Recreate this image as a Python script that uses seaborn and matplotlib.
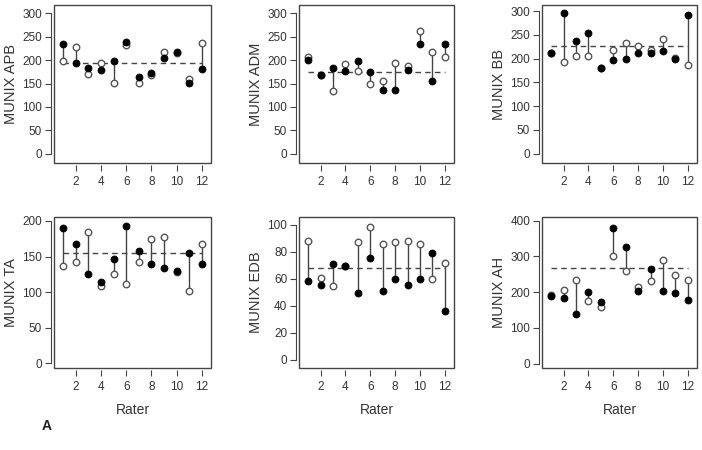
import numpy as np
import pandas as pd
import matplotlib
matplotlib.use("Agg")
import matplotlib.pyplot as plt
from matplotlib.patches import Rectangle
import seaborn as sns

# Valeurs (raters 1..12)
raters = list(range(1, 13))

apb_filled = [234, 193, 184, 179, 198, 239, 165, 172, 204, 218, 151, 182]
apb_open = [198, 228, 170, 194, 152, 232, 152, 169, 218, 216, 160, 237]
apb_mean = 194

adm_filled = [200, 168, 183, 176, 199, 174, 137, 137, 179, 235, 156, 235]
adm_open = [207, 168, 133, 191, 177, 149, 155, 194, 187, 263, 218, 207]
adm_mean = 174

bb_filled = [212, 297, 237, 254, 180, 197, 199, 211, 211, 215, 200, 292]
bb_open = [212, 192, 206, 206, 180, 218, 232, 226, 219, 241, 201, 186]
bb_mean = 227

ta_filled = [190, 167, 125, 114, 146, 193, 158, 140, 134, 130, 155, 139]
ta_open = [137, 143, 184, 109, 125, 111, 143, 175, 177, 128, 101, 168]
ta_mean = 155

edb_filled = [58, 55, 70.7, 69.2, 49.4, 75.5, 51.1, 60, 55, 60, 78.7, 36.4]
edb_open = [87.5, 60.4, 54.3, 69.2, 86.8, 98.5, 85.8, 86.8, 87.5, 85.8, 60, 71.6]
edb_mean = 68

ah_filled = [190, 183, 138, 200, 173, 378, 326, 203, 264, 203, 199, 177]
ah_open = [192, 206, 233, 174, 159, 300, 259, 214, 232, 291, 247, 233]
ah_mean = 268

panels = [
    ("MUNIX APB", apb_filled, apb_open, apb_mean, (-20, 318), [0, 50, 100, 150, 200, 250, 300]),
    ("MUNIX ADM", adm_filled, adm_open, adm_mean, (-20, 318), [0, 50, 100, 150, 200, 250, 300]),
    ("MUNIX BB", bb_filled, bb_open, bb_mean, (-20, 313), [0, 50, 100, 150, 200, 250, 300]),
    ("MUNIX TA", ta_filled, ta_open, ta_mean, (-6.5, 205.6), [0, 50, 100, 150, 200]),
    ("MUNIX EDB", edb_filled, edb_open, edb_mean, (-6.1, 105.6), [0, 20, 40, 60, 80, 100]),
    ("MUNIX AH", ah_filled, ah_open, ah_mean, (-12, 410), [0, 100, 200, 300, 400]),
]

sns.set_style("white")
plt.rcParams["font.family"] = ["Liberation Sans", "DejaVu Sans"]

fig = plt.figure(figsize=(7.02, 4.5), dpi=100)

# positions des boîtes (pixels) : gauche, droite ; haut, bas
cols = [(54, 211), (299, 454), (542, 697)]
rows = [(5, 163), (217, 368)]
W, H = 702, 450

line_col = "#444444"
text_col = "#333333"

for i, (name, filled, opened, mean, ylim, yticks) in enumerate(panels):
    r, c = divmod(i, 3)
    l, rr = cols[c]
    t, b = rows[r]
    ax = fig.add_axes([l / W, 1 - b / H, (rr - l) / W, (b - t) / H])

    df = pd.DataFrame({"rater": raters, "filled": filled, "open": opened})

    ax.vlines(df["rater"], df[["filled", "open"]].min(axis=1), df[["filled", "open"]].max(axis=1),
              color=line_col, lw=1.0, zorder=1)
    ax.hlines(mean, 1, 12, colors=line_col, linestyles=(0, (4, 3)), lw=1.0, zorder=1)

    sns.scatterplot(data=df, x="rater", y="open", ax=ax, s=22, facecolor="white",
                    edgecolor="#555555", linewidth=1.0, zorder=2, legend=False)
    sns.scatterplot(data=df, x="rater", y="filled", ax=ax, s=26, color="black",
                    edgecolor="black", linewidth=0.5, zorder=3, legend=False)

    ax.set_xlim(0.27, 12.73)
    ax.set_ylim(*ylim)
    ax.set_xticks([2, 4, 6, 8, 10, 12])
    ax.set_yticks(yticks)

    # style R : boîte + axes légèrement décalés
    for side in ["top", "right"]:
        ax.spines[side].set_visible(False)
    ax.spines["left"].set_position(("outward", 2.5))
    ax.spines["bottom"].set_position(("outward", 1.5))
    ax.spines["left"].set_bounds(yticks[0], yticks[-1])
    ax.spines["bottom"].set_visible(False)
    ax.spines["left"].set_color(line_col)
    ax.spines["left"].set_linewidth(0.8)
    ax.add_patch(Rectangle((0, 0), 1, 1, transform=ax.transAxes, fill=False,
                           edgecolor=line_col, lw=1.0, clip_on=False, zorder=5))

    ax.tick_params(axis="both", direction="out", length=4, width=0.8, color=line_col,
                   labelsize=8.5, labelcolor=text_col, bottom=True, left=True)
    ax.tick_params(axis="y", pad=2)
    ax.tick_params(axis="x", pad=4)

    ax.set_ylabel(name, fontsize=10.5, color=text_col, labelpad=3)
    if r == 1:
        ax.set_xlabel("Rater", fontsize=10, color=text_col, labelpad=7)
    else:
        ax.set_xlabel("")

fig.text(42 / W, 1 - 426 / H, "A", fontsize=10, fontweight="bold", color="#222222",
         va="center", ha="left")

fig.savefig("out.png", dpi=100)
